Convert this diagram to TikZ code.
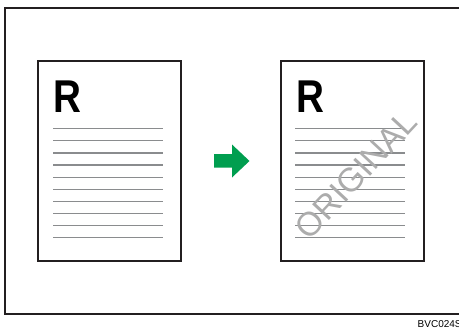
\documentclass[tikz,border=0pt]{standalone}
\usepackage{fontspec}
\setmainfont{Liberation Sans}
\usetikzlibrary{positioning}
\definecolor{FrameGray}{RGB}{35,31,32}
\definecolor{RuleGray}{RGB}{138,140,142}
\definecolor{StampGray}{RGB}{172,172,172}
\definecolor{ArrowGreen}{RGB}{0,158,79}

\begin{document}
\begin{tikzpicture}[x=1pt,y=-1pt,
    sheet/.style={draw=FrameGray,line width=2pt,minimum width=143pt,minimum height=200pt,inner sep=0pt},
    letter/.style={anchor=base west,inner sep=0pt,xscale=0.84,font=\fontsize{46}{46}\selectfont\bfseries},
    rule/.style={RuleGray,line width=1.2pt}]
      \useasboundingbox (0,0) rectangle (459,332);
      \clip (0,0) rectangle (459,332);
      \draw[line width=2pt,FrameGray] (4.5,8) rectangle (470,313.5);
      \node[anchor=west,inner sep=0pt,font=\fontsize{10}{10}\selectfont] (code) at (417.5,324) {BVC024S};
      % original sheet
      \node[sheet] (pageL) at (109.5,161) {};
      \node[letter] (rL) at ([shift={(16,53)}]pageL.north west) {R};
      \foreach \i in {0,...,9}
        \draw[rule] ([shift={(16,68.7+\i*12.1)}]pageL.north west) -- ++(109.5,0);
      % copy with stamp
      \node[sheet] (pageR) at (352.5,161) {};
      \node[letter] (rR) at ([shift={(16,53)}]pageR.north west) {R};
      \foreach \i in {0,...,9}
        \draw[rule] ([shift={(15,68.7+\i*12.1)}]pageR.north west) -- ++(110,0);
      \node[StampGray,rotate=47,inner sep=0pt,font=\fontsize{33.5}{33.5}\selectfont] (stamp) at (356,175) {ORIGINAL};
      \fill[ArrowGreen] (214,154)--(232,154)--(232,144.5)--(249.5,161)--(232,177.5)--(232,167.5)--(214,167.5)--cycle;
    \end{tikzpicture}
\end{document}
